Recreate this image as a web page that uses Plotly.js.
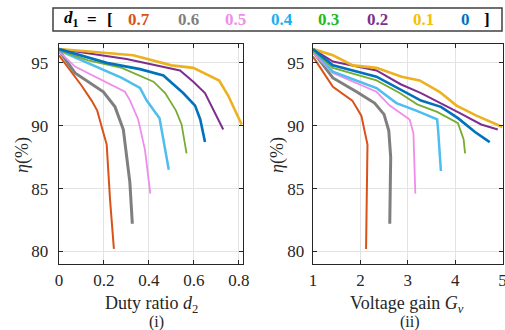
<!DOCTYPE html>
<html>
<head>
<meta charset="utf-8">
<script src="https://cdn.plot.ly/plotly-3.0.1.min.js"></script>
<style>html,body{margin:0;padding:0;background:#fff;}#chart{width:505px;height:330px;}</style>
</head>
<body>
<div id="chart"></div>
<script>
// d1 values (series) and colours
var d1Labels = ['0.7', '0.6', '0.5', '0.4', '0.3', '0.2', '0.1', '0'];
var lineColors = ['#D95319', '#7F7F7F', '#F08CEA', '#4DBEEE', '#77AC30', '#7E2F8E', '#EDB120', '#0072BD'];
var textColors = ['#D95319', '#7F7F7F', '#F08CEA', '#1AAFEF', '#22B822', '#7E2F8E', '#F5C000', '#0072BD'];
var lineWidths = [2, 3, 1.8, 2.5, 1.8, 2, 2.6, 2.6];

// (i) efficiency vs duty ratio d2
var d2_07 = [0, 0.05, 0.10, 0.145, 0.17, 0.19, 0.212, 0.227, 0.244];
var etaD_07 = [95.6, 94.4, 93.2, 92.0, 91.2, 89.9, 88.5, 84.1, 80.2];
var d2_06 = [0, 0.071, 0.197, 0.249, 0.286, 0.30, 0.315, 0.326];
var etaD_06 = [96.0, 94.2, 92.7, 91.5, 89.7, 87.8, 85.5, 82.2];
var d2_05 = [0, 0.071, 0.293, 0.316, 0.352, 0.367, 0.382, 0.406];
var etaD_05 = [95.9, 94.7, 92.7, 92.0, 90.5, 89.4, 88.1, 84.6];
var d2_04 = [0, 0.13, 0.279, 0.36, 0.39, 0.447, 0.488];
var etaD_04 = [96.0, 95.0, 93.8, 93.0, 92.0, 90.6, 86.5];
var d2_03 = [0, 0.13, 0.279, 0.36, 0.42, 0.472, 0.52, 0.545, 0.567];
var etaD_03 = [96.0, 95.2, 94.6, 94.0, 93.5, 92.6, 91.2, 90.1, 87.8];
var d2_02 = [0, 0.30, 0.538, 0.597, 0.649, 0.682, 0.73];
var etaD_02 = [96.1, 95.3, 94.4, 93.5, 92.6, 91.4, 89.7];
var d2_01 = [0, 0.33, 0.50, 0.597, 0.712, 0.752, 0.812];
var etaD_01 = [96.1, 95.6, 94.8, 94.6, 93.6, 92.4, 90.1];
var d2_00 = [0, 0.212, 0.36, 0.464, 0.552, 0.605, 0.628, 0.649];
var etaD_00 = [96.1, 95.0, 94.5, 94.0, 92.6, 91.6, 90.5, 88.7];

// (ii) efficiency vs voltage gain Gv
var gv_07 = [1, 1.42, 1.83, 2.02, 2.15, 2.14, 2.12];
var etaG_07 = [95.5, 93.1, 92.0, 90.8, 88.5, 84.0, 80.2];
var gv_06 = [1, 1.42, 1.92, 2.30, 2.50, 2.60, 2.64, 2.62];
var etaG_06 = [95.9, 93.8, 92.7, 91.8, 90.9, 89.6, 87.5, 82.2];
var gv_05 = [1, 1.42, 2.34, 2.62, 3.04, 3.12, 3.16];
var etaG_05 = [95.8, 94.2, 92.7, 91.6, 90.5, 89.4, 84.6];
var gv_04 = [1, 1.42, 2.34, 2.76, 3.18, 3.62, 3.64, 3.70];
var etaG_04 = [96.0, 94.3, 93.0, 91.8, 91.2, 90.5, 89.7, 86.4];
var gv_03 = [1, 1.42, 2.34, 2.83, 3.20, 3.62, 4.06, 4.18, 4.21];
var etaG_03 = [96.0, 94.6, 93.6, 92.6, 91.7, 91.1, 90.2, 88.9, 87.8];
var gv_02 = [1, 1.42, 2.34, 2.85, 3.28, 3.70, 4.10, 4.55, 4.90];
var etaG_02 = [96.1, 95.1, 94.4, 93.3, 92.6, 91.8, 91.0, 90.1, 89.7];
var gv_01 = [1, 1.42, 1.84, 2.34, 2.87, 3.25, 3.67, 4.03, 4.45, 5.0];
var etaG_01 = [96.1, 95.6, 94.8, 94.6, 93.9, 93.6, 92.7, 91.6, 90.8, 89.9];
var gv_00 = [1, 1.42, 2.34, 2.88, 3.28, 3.70, 4.06, 4.42, 4.73];
var etaG_00 = [96.1, 94.8, 93.9, 92.8, 92.0, 91.5, 90.6, 89.5, 88.7];

var xTicksD = [0, 0.2, 0.4, 0.6, 0.8];
var xTicksG = [1, 2, 3, 4, 5];
var yTicks = [80, 85, 90, 95];

var leftX = [d2_07, d2_06, d2_05, d2_04, d2_03, d2_02, d2_01, d2_00];
var leftY = [etaD_07, etaD_06, etaD_05, etaD_04, etaD_03, etaD_02, etaD_01, etaD_00];
var rightX = [gv_07, gv_06, gv_05, gv_04, gv_03, gv_02, gv_01, gv_00];
var rightY = [etaG_07, etaG_06, etaG_05, etaG_04, etaG_03, etaG_02, etaG_01, etaG_00];

var traces = [];
for (var i = 0; i < d1Labels.length; i++) {
  traces.push({x: leftX[i], y: leftY[i], xaxis: 'x', yaxis: 'y', mode: 'lines',
    line: {color: lineColors[i], width: lineWidths[i]}, name: d1Labels[i], showlegend: false, hoverinfo: 'skip'});
  traces.push({x: rightX[i], y: rightY[i], xaxis: 'x2', yaxis: 'y2', mode: 'lines',
    line: {color: lineColors[i], width: lineWidths[i]}, name: d1Labels[i], showlegend: false, hoverinfo: 'skip'});
}

var W = 505, H = 330;
var FONT = "'Liberation Serif', 'DejaVu Serif', serif";
function axisBase() {
  return {
    showline: true, mirror: 'ticks', linecolor: '#262626', linewidth: 1.3,
    ticks: 'inside', ticklen: 4, tickwidth: 1, tickcolor: '#262626',
    showgrid: true, gridcolor: '#E3E3E3', gridwidth: 1,
    zeroline: false, automargin: false, ticklabeloverflow: 'allow',
    tickfont: {family: FONT, size: 17, color: '#262626'}
  };
}
var xa = axisBase(); xa.domain = [59/W, 243/W]; xa.range = [0, 0.818]; xa.tickmode = 'array'; xa.tickvals = xTicksD; xa.ticktext = xTicksD.map(String); xa.anchor = 'y';
var ya = axisBase(); ya.domain = [(H-264)/H, (H-44)/H]; ya.range = [79.0, 96.5]; ya.tickmode = 'array'; ya.tickvals = yTicks; ya.anchor = 'x'; ya.ticklabelstandoff = 6;
var xa2 = axisBase(); xa2.domain = [313/W, 502.5/W]; xa2.range = [1, 5]; xa2.tickmode = 'array'; xa2.tickvals = xTicksG; xa2.anchor = 'y2';
var ya2 = axisBase(); ya2.domain = ya.domain; ya2.range = [79.0, 96.5]; ya2.tickmode = 'array'; ya2.tickvals = yTicks; ya2.anchor = 'x2'; ya2.ticklabelstandoff = 4;

function px(x) { return x / W; }
function py(y) { return (H - y) / H; }

var annotations = [];
function ann(text, x, y, size, extra) {
  var a = {text: text, x: px(x), y: py(y), xref: 'paper', yref: 'paper', showarrow: false,
    xanchor: 'center', yanchor: 'middle', font: {family: FONT, size: size, color: '#262626'}};
  if (extra) for (var k in extra) a[k] = extra[k];
  annotations.push(a);
}
// axis titles
ann('Duty ratio <i>d</i><sub>2</sub>', 151, 304, 18);
ann('(i)', 156, 322, 16);
ann('Voltage gain <i>G</i><sub><i>v</i></sub>', 407, 304, 18);
ann('(ii)', 410, 322, 16);
ann('<i>η</i>(%)', 22, 155, 18, {textangle: -90});
ann('<i>η</i>(%)', 277, 155, 18, {textangle: -90});

// legend-like header
ann('<b><i>d</i><sub>1</sub></b>', 71, 19, 17, {font: {family: FONT, size: 17, color: '#000'}});
ann('<b>=</b>', 92, 19, 17, {font: {family: FONT, size: 17, color: '#000'}});
ann('<b>[</b>', 110, 19, 17, {font: {family: FONT, size: 17, color: '#000'}});
var legX = [139, 188, 235, 282, 328, 377, 423, 465];
for (var j = 0; j < d1Labels.length; j++) {
  ann('<b>' + d1Labels[j] + '</b>', legX[j], 19, 17, {font: {family: FONT, size: 17, color: textColors[j]}});
}
ann('<b>]</b>', 487, 19, 17, {font: {family: FONT, size: 17, color: '#000'}});

var layout = {
  width: W, height: H,
  margin: {l: 0, r: 0, t: 0, b: 0},
  paper_bgcolor: '#FFFFFF', plot_bgcolor: '#FFFFFF',
  showlegend: false,
  font: {family: FONT},
  xaxis: xa, yaxis: ya, xaxis2: xa2, yaxis2: ya2,
  annotations: annotations,
  shapes: [{type: 'rect', xref: 'paper', yref: 'paper', x0: px(53), x1: px(502), y0: py(31), y1: py(8),
    line: {color: '#404040', width: 1.5}, fillcolor: 'rgba(0,0,0,0)'}]
};

Plotly.newPlot('chart', traces, layout, {staticPlot: true, displayModeBar: false});
</script>
</body>
</html>
